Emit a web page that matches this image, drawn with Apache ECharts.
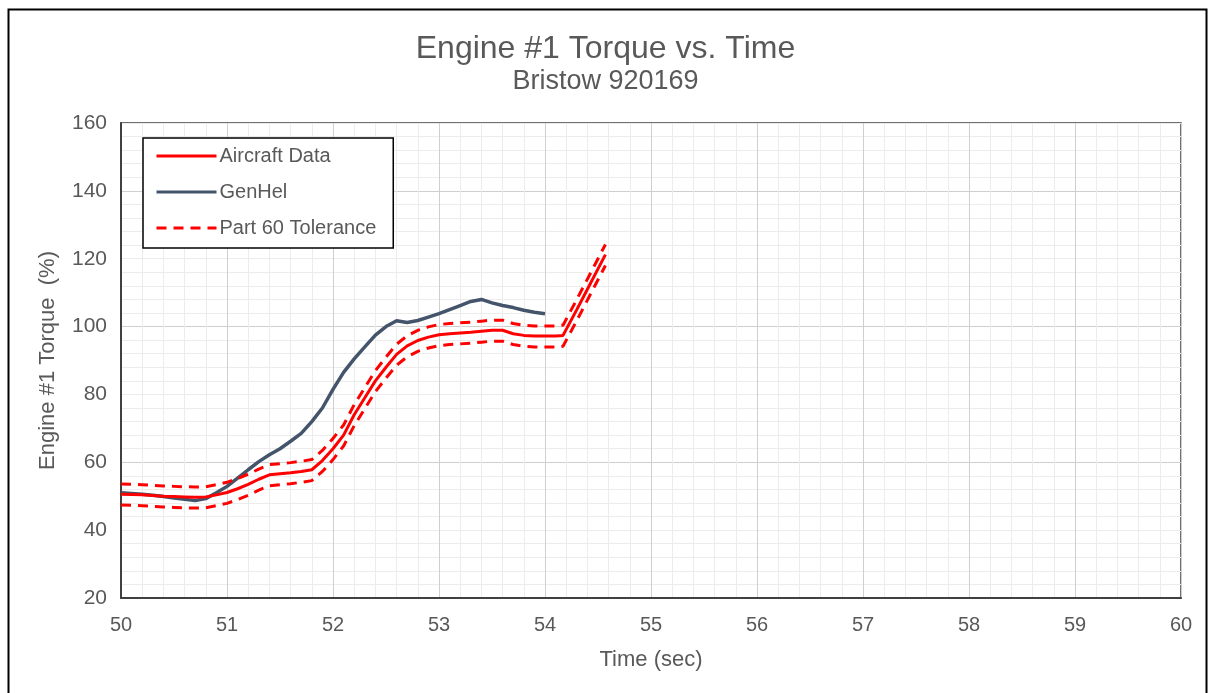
<!DOCTYPE html>
<html>
<head>
<meta charset="utf-8">
<script src="https://cdn.jsdelivr.net/npm/echarts@6/dist/echarts.min.js"></script>
<style>
  html, body { margin: 0; padding: 0; background: #fff; }
  #chart { width: 1211px; height: 693px; }
</style>
</head>
<body>
<div id="chart"></div>
<script>
// Engine #1 torque traces, seconds vs. percent
const aircraftTime = [50.0, 50.1, 50.2, 50.3, 50.4, 50.5, 50.6, 50.7, 50.8, 50.9,
  51.0, 51.1, 51.2, 51.3, 51.4, 51.5, 51.6, 51.7, 51.8, 51.9,
  52.0, 52.1, 52.2, 52.3, 52.4, 52.5, 52.6, 52.7, 52.8, 52.9,
  53.0, 53.1, 53.2, 53.3, 53.4, 53.5, 53.6, 53.7, 53.8, 53.9,
  54.0, 54.1, 54.17, 54.3, 54.4, 54.5, 54.57];
const aircraftTorque = [50.6, 50.5, 50.4, 50.2, 50.0, 49.9, 49.8, 49.7, 49.8, 50.4,
  51.1, 52.2, 53.5, 55.0, 56.3, 56.6, 56.9, 57.3, 57.8, 60.5,
  64.0, 68.0, 74.0, 79.0, 84.0, 88.0, 91.8, 94.3, 95.9, 96.9,
  97.6, 97.9, 98.1, 98.3, 98.6, 98.9, 98.9, 97.9, 97.4, 97.2,
  97.2, 97.2, 97.4, 105.0, 111.0, 117.0, 121.2];
const toleranceUpper = [53.6, 53.5, 53.4, 53.2, 53.0, 52.9, 52.8, 52.7, 52.8, 53.4,
  54.1, 55.2, 56.5, 58.0, 59.3, 59.6, 59.9, 60.3, 60.8, 63.5,
  67.0, 71.0, 77.0, 82.0, 87.0, 91.0, 94.8, 97.3, 98.9, 99.9,
  100.6, 100.9, 101.1, 101.3, 101.6, 101.9, 101.9, 100.9, 100.4, 100.2,
  100.2, 100.2, 100.4, 108.0, 114.0, 120.0, 124.2];
const toleranceLower = [47.4, 47.3, 47.2, 47.0, 46.8, 46.7, 46.6, 46.5, 46.6, 47.2,
  47.9, 49.0, 50.3, 51.8, 53.1, 53.4, 53.7, 54.1, 54.6, 57.3,
  60.8, 64.8, 70.8, 75.8, 80.8, 84.8, 88.6, 91.1, 92.7, 93.7,
  94.4, 94.7, 94.9, 95.1, 95.4, 95.7, 95.7, 94.7, 94.2, 94.0,
  94.0, 94.0, 94.2, 101.8, 107.8, 113.8, 118.0];

const genhelTime = [50.0, 50.1, 50.2, 50.3, 50.4, 50.5, 50.6, 50.7, 50.8, 50.9,
  51.0, 51.1, 51.2, 51.3, 51.4, 51.5, 51.6, 51.7, 51.8, 51.9,
  52.0, 52.1, 52.2, 52.3, 52.4, 52.5, 52.6, 52.7, 52.8, 52.9,
  53.0, 53.1, 53.2, 53.3, 53.4, 53.5, 53.6, 53.7, 53.8, 53.9, 54.0];
const genhelTorque = [51.0, 50.8, 50.6, 50.3, 49.9, 49.5, 49.1, 48.7, 49.3, 51.0,
  52.9, 55.3, 57.8, 60.2, 62.2, 64.0, 66.2, 68.5, 72.0, 76.0,
  81.5, 86.5, 90.5, 94.0, 97.5, 100.0, 101.7, 101.2, 101.8, 102.8,
  103.8, 105.0, 106.2, 107.4, 108.0, 107.0, 106.2, 105.6, 104.8, 104.2, 103.8];

const seriesNames = ['Aircraft Data', 'GenHel', 'Part 60 Tolerance'];
const timeRange = [50, 60];
const torqueRange = [20, 160];

const pairs = (xs, ys) => xs.map((x, i) => [x, ys[i]]);

const textColor = '#595959';
const fontFamily = '"Liberation Sans", Arial, sans-serif';
const majorGrid = '#cfcfcf';
const minorGrid = '#ececec';

// horizontal grid: darker every 40 %, light every 4 %
const hGridColors = [majorGrid].concat(Array(9).fill(minorGrid));

const chart = echarts.init(document.getElementById('chart'), null, { renderer: 'canvas' });

chart.setOption({
  backgroundColor: '#fff',
  animation: false,
  title: [
    { text: 'Engine #1 Torque vs. Time', left: 'center', top: 28,
      textStyle: { fontFamily, fontSize: 32, fontWeight: 'normal', color: textColor } },
    { text: 'Bristow 920169', left: 'center', top: 63,
      textStyle: { fontFamily, fontSize: 27, fontWeight: 'normal', color: textColor } }
  ],
  legend: {
    data: seriesNames,
    orient: 'vertical',
    left: 143, top: 138,
    padding: [8, 17, 10, 12],
    itemWidth: 60, itemHeight: 14, itemGap: 16,
    backgroundColor: '#fff',
    borderColor: '#000', borderWidth: 1.5,
    itemStyle: { opacity: 0, color: 'rgba(0,0,0,0)', borderWidth: 0 },
    lineStyle: { width: 3 },
    textStyle: { fontFamily, fontSize: 20, color: textColor, padding: [0, 0, 0, -2] }
  },
  grid: {
    left: 121, right: 30, top: 123, bottom: 95,
    show: true, borderColor: '#404040', borderWidth: 1.5
  },
  xAxis: [
    {
      type: 'value', min: timeRange[0], max: timeRange[1], interval: 1,
      name: 'Time (sec)', nameLocation: 'middle', nameGap: 51,
      nameTextStyle: { fontFamily, fontSize: 22, color: textColor },
      axisLine: { show: true, lineStyle: { color: '#404040', width: 2 } },
      axisTick: { show: false },
      axisLabel: { fontFamily, fontSize: 20, color: textColor, margin: 17 },
      splitLine: { show: true, lineStyle: { color: majorGrid, width: 1 } },
      minorTick: { show: false, splitNumber: 5 },
      minorSplitLine: { show: true, lineStyle: { color: minorGrid, width: 1 } }
    }
  ],
  yAxis: [
    {
      type: 'value', min: torqueRange[0], max: torqueRange[1], interval: 20,
      name: 'Engine #1 Torque  (%)', nameLocation: 'middle', nameGap: 62,
      nameTextStyle: { fontFamily, fontSize: 22, color: textColor },
      axisLine: { show: true, lineStyle: { color: '#404040', width: 2 } },
      axisTick: { show: false },
      axisLabel: { fontFamily, fontSize: 21, color: textColor, margin: 14 },
      splitLine: { show: false }
    },
    {
      type: 'value', min: torqueRange[0], max: torqueRange[1], interval: 4,
      axisLine: { show: false }, axisTick: { show: false }, axisLabel: { show: false },
      splitLine: { show: true, lineStyle: { color: hGridColors, width: 1 } }
    }
  ],
  series: [
    {
      name: seriesNames[1], type: 'line', data: pairs(genhelTime, genhelTorque),
      showSymbol: false, symbol: 'none', z: 3,
      lineStyle: { color: '#44546A', width: 3.5 }, itemStyle: { color: '#44546A' }
    },
    {
      name: seriesNames[0], type: 'line', data: pairs(aircraftTime, aircraftTorque),
      showSymbol: false, symbol: 'none', z: 4,
      lineStyle: { color: '#FF0000', width: 3 }, itemStyle: { color: '#FF0000' }
    },
    {
      name: seriesNames[2], type: 'line', data: pairs(aircraftTime, toleranceUpper),
      showSymbol: false, symbol: 'none', z: 4,
      lineStyle: { color: '#FF0000', width: 3, type: [10, 7] }, itemStyle: { color: '#FF0000' }
    },
    {
      name: seriesNames[2], type: 'line', data: pairs(aircraftTime, toleranceLower),
      showSymbol: false, symbol: 'none', z: 4,
      lineStyle: { color: '#FF0000', width: 3, type: [10, 7] }, itemStyle: { color: '#FF0000' }
    }
  ],
  graphic: [
    { type: 'rect', left: 6, top: 7, shape: { width: 1198, height: 700 },
      style: { fill: 'none', stroke: '#000', lineWidth: 2 }, silent: true }
  ]
});
</script>
</body>
</html>
